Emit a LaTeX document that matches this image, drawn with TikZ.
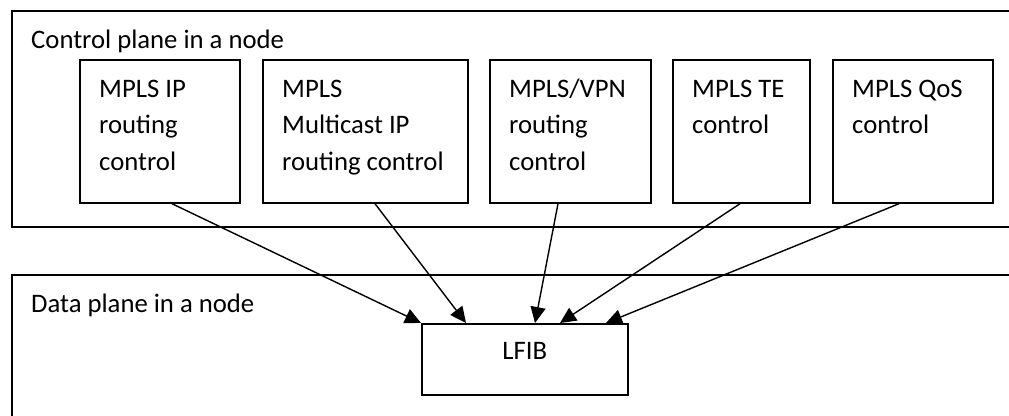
\documentclass[tikz,border=0pt]{standalone}
\usepackage{fontspec}
\setmainfont{Carlito}
\usetikzlibrary{arrows.meta}
\begin{document}
\begin{tikzpicture}[x=1pt,y=-1pt,
  plane/.style={draw, line width=1.7pt, anchor=north west, inner sep=0pt, minimum width=1100pt},
  box/.style={draw, line width=1.7pt, anchor=north west, inner sep=0pt, minimum height=143pt},
  boxtext/.style={anchor=north west, align=left, inner sep=0pt, xshift=20pt, yshift=-16pt, font=\fontsize{26.7}{36.5}\selectfont},
  flow/.style={-{Triangle[length=16pt,width=15pt]}, line width=1.4pt}]
\useasboundingbox (0,0) rectangle (1009,415);
\clip (0,0) rectangle (1009,415);
\fill[white] (0,0) rectangle (1009,415);
% planes
\node[plane, minimum height=216pt, label={[boxtext]north west:{\rule{0pt}{22pt}Control plane in a node}}] (cp) at (11,10) {};
\node[plane, minimum height=200pt, label={[boxtext]north west:{\rule{0pt}{22pt}Data plane in a node}}] (dp) at (11,274) {};
% control boxes
\node[box, minimum width=160pt, label={[boxtext]north west:{\rule{0pt}{22pt}MPLS IP\\routing\\control}}] (b1) at (79,59) {};
\node[box, minimum width=205pt, label={[boxtext]north west:{\rule{0pt}{22pt}MPLS\\Multicast IP\\routing control}}] (b2) at (262,59) {};
\node[box, minimum width=161pt, label={[boxtext]north west:{\rule{0pt}{22pt}MPLS/VPN\\routing\\control}}] (b3) at (489,59) {};
\node[box, minimum width=137pt, label={[boxtext]north west:{\rule{0pt}{22pt}MPLS TE\\control}}] (b4) at (672,59) {};
\node[box, minimum width=160pt, label={[boxtext]north west:{\rule{0pt}{22pt}MPLS QoS\\control}}] (b5) at (832,59) {};
% LFIB
\node[draw, line width=1.7pt, anchor=north west, minimum width=206pt, minimum height=71pt, text height=17pt, text depth=17pt, font=\fontsize{26.7}{30}\selectfont] (lfib) at (421,323) {LFIB};
% arrows
\draw[flow] ([xshift=93pt]b1.south west) -- ([xshift=0pt]lfib.north west);
\draw[flow] ([xshift=113pt]b2.south west) -- ([xshift=45pt]lfib.north west);
\draw[flow] ([xshift=69pt]b3.south west) -- ([xshift=114pt]lfib.north west);
\draw[flow] ([xshift=68pt]b4.south west) -- ([xshift=139pt]lfib.north west);
\draw[flow] ([xshift=67pt]b5.south west) -- ([xshift=185pt]lfib.north west);
\end{tikzpicture}
\end{document}
